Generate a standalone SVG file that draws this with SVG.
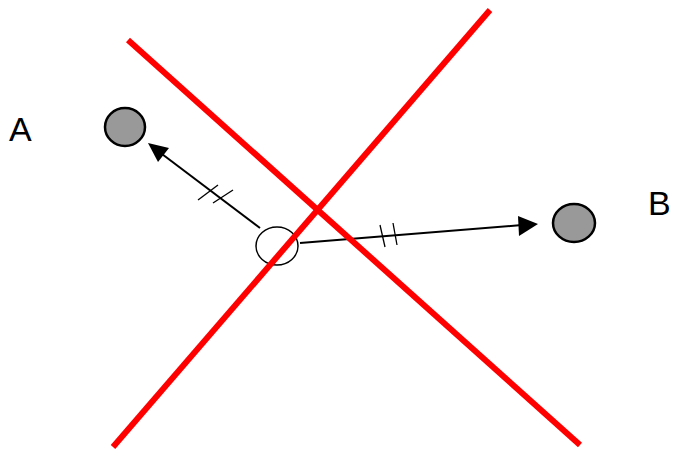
<svg xmlns="http://www.w3.org/2000/svg" width="673" height="450" viewBox="0 0 673 450">
<style>
.node{fill:#999;stroke:#000;stroke-width:2.5}
.open{fill:#fff;stroke:#000;stroke-width:1.5}
.edge{stroke:#000;stroke-width:2;fill:none}
.head{fill:#000}
.tick{stroke:#000;stroke-width:1.3}
.cross{stroke:#f00;stroke-width:6;stroke-linecap:butt}
.lbl{font-family:"Liberation Sans",Arial,sans-serif;font-size:34px;fill:#000}
</style>
<rect width="673" height="450" fill="#fff"/>
<g id="connectors">
<line class="edge" x1="260" y1="228" x2="158" y2="151"/>
<path class="head" d="M148,143 L169,148 L158,162 z"/>
<line class="tick" x1="198" y1="200" x2="218" y2="185"/>
<line class="tick" x1="213" y1="203" x2="233" y2="190"/>
<line class="edge" x1="300" y1="243" x2="522" y2="225"/>
<path class="head" d="M538,224 L518,216 L519,236 z"/>
<line class="tick" x1="380" y1="225" x2="385" y2="247"/>
<line class="tick" x1="393" y1="223" x2="397" y2="245"/>
</g>
<g id="nodeA"><ellipse class="node" cx="125" cy="127" rx="20" ry="19"/></g>
<g id="nodeO"><ellipse class="open" cx="277" cy="246" rx="21" ry="19"/></g>
<g id="nodeB"><ellipse class="node" cx="574" cy="223" rx="21" ry="19"/></g>
<g id="labels">
<text class="lbl" x="9" y="141">A</text>
<text class="lbl" x="648" y="215">B</text>
</g>
<g id="cross">
<line class="cross" x1="128" y1="40" x2="580" y2="445"/>
<line class="cross" x1="490" y1="10" x2="113" y2="447"/>
</g>
</svg>
